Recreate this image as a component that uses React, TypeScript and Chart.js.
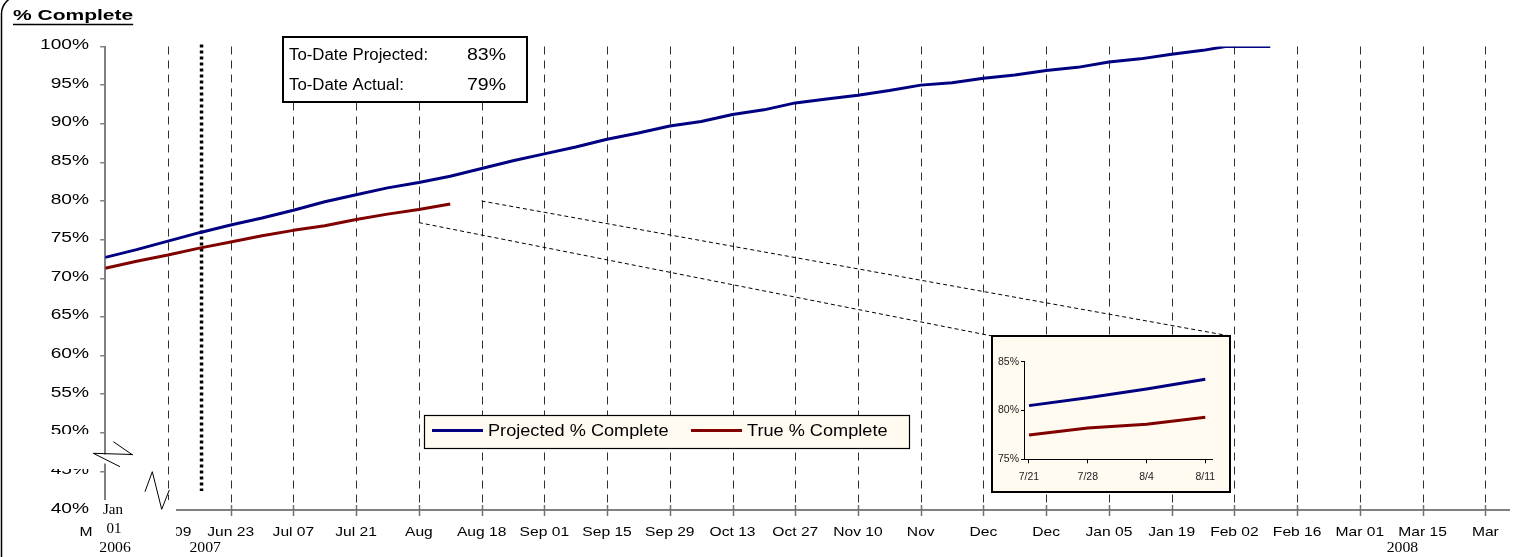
import React, { useEffect, useRef } from 'react';
import { Chart, registerables } from 'chart.js';

Chart.register(...registerables);

const W = 1513;
const H = 557;

// ---------- data (days counted from May 26, 2007) ----------
const projectedDays = [0, 7, 14, 21, 28, 35, 42, 49, 56, 63, 70, 77, 84, 91, 98, 105, 112, 119, 126, 133, 140, 147, 154, 161, 168, 175, 182, 189, 196, 203, 210, 217, 224, 231, 238, 245, 250, 260];
const projectedValues = [72.7, 73.7, 74.8, 75.9, 76.9, 77.8, 78.8, 79.9, 80.8, 81.7, 82.4, 83.2, 84.2, 85.2, 86.1, 87.0, 88.0, 88.8, 89.7, 90.3, 91.2, 91.8, 92.7, 93.2, 93.7, 94.3, 95.0, 95.3, 95.9, 96.3, 96.9, 97.3, 98.0, 98.4, 99.0, 99.5, 100, 100];

const actualDays = [0, 7, 14, 21, 28, 35, 42, 49, 56, 63, 70, 77];
const actualValues = [71.3, 72.2, 73.0, 73.9, 74.7, 75.5, 76.2, 76.8, 77.6, 78.3, 78.9, 79.6];

const xTickDays = [0, 14, 28, 42, 56, 70, 84, 98, 112, 126, 140, 154, 168, 182, 196, 210, 224, 238, 252, 266, 280, 294, 308];
const xTickLabels = ['May 26', 'Jun 09', 'Jun 23', 'Jul 07', 'Jul 21', 'Aug', 'Aug 18', 'Sep 01', 'Sep 15', 'Sep 29', 'Oct 13', 'Oct 27', 'Nov 10', 'Nov', 'Dec', 'Dec', 'Jan 05', 'Jan 19', 'Feb 02', 'Feb 16', 'Mar 01', 'Mar 15', 'Mar'];
const yTickValues = [40, 45, 50, 55, 60, 65, 70, 75, 80, 85, 90, 95, 100];

const yearLabelDays = [22.3, 289.5];
const yearLabels = ['2007', '2008'];
const brokenAxisLabels = ['Jan', '01', '2006'];

const statusDay = 21.5;
const toDateLabels = ['To-Date Projected:', 'To-Date Actual:'];
const toDateValues = [83, 79];

const seriesNames = ['Projected % Complete', 'True % Complete'];
const seriesColors = ['#000080', '#800000'];

const zoomFromDays = [70, 84];
const zoomFromValues = [77.2, 80.0];

const insetLabels = ['7/21', '7/28', '8/4', '8/11'];
const insetProjected = [80.5, 81.3, 82.2, 83.2];
const insetActual = [77.5, 78.2, 78.6, 79.3];
const insetYTicks = [75, 80, 85];

// ---------- helpers ----------
const SANS = '"Liberation Sans", Arial, sans-serif';
const SERIF = '"Liberation Serif", "Times New Roman", serif';
const INSET = { left: 991, top: 335, w: 240, h: 158 };
const CREAM = '#FFFBF0';

function stext(
  ctx: CanvasRenderingContext2D,
  text: string,
  x: number,
  y: number,
  font: string,
  sx: number,
  align: CanvasTextAlign,
  color = '#000'
): number {
  ctx.save();
  ctx.font = font;
  ctx.fillStyle = color;
  ctx.textBaseline = 'middle';
  ctx.textAlign = align;
  ctx.translate(x, y);
  ctx.scale(sx, 1);
  ctx.fillText(text, 0, 0);
  const w = ctx.measureText(text).width * sx;
  ctx.restore();
  return w;
}

function poly(ctx: CanvasRenderingContext2D, pts: number[][], color: string, width: number, dash: number[] = []) {
  ctx.save();
  ctx.strokeStyle = color;
  ctx.lineWidth = width;
  ctx.setLineDash(dash);
  ctx.beginPath();
  pts.forEach((p, i) => (i === 0 ? ctx.moveTo(p[0], p[1]) : ctx.lineTo(p[0], p[1])));
  ctx.stroke();
  ctx.restore();
}

const decorPlugin = {
  id: 'decor',
  beforeDatasetsDraw(chart: any) {
    const { ctx, chartArea: ca } = chart;
    const xs = chart.scales.x;
    const ys = chart.scales.y;
    // dashed vertical gridlines
    xTickDays.forEach((d) => {
      if (d <= 0) return;
      const px = Math.round(xs.getPixelForValue(d)) + 0.5;
      poly(ctx, [[px, ca.top], [px, ca.bottom - 4]], '#303030', 1, [8, 6]);
    });
    // status date (dotted)
    const sxp = xs.getPixelForValue(statusDay);
    poly(ctx, [[sxp, ca.top - 2], [sxp, 491]], '#000', 3.5, [3, 3]);
    // x axis line with cross ticks
    poly(ctx, [[175, ca.bottom], [ca.right, ca.bottom]], '#808080', 2);
    xTickDays.forEach((d) => {
      const px = Math.round(xs.getPixelForValue(d)) + 0.5;
      if (px < 176) return;
      poly(ctx, [[px, ca.bottom - 5], [px, ca.bottom + 6]], '#707070', 1.5);
    });
    // zoom connectors to the inset
    const ends = [
      [INSET.left + 1, INSET.top + 1],
      [INSET.left + INSET.w - 1, INSET.top + 1],
    ];
    zoomFromDays.forEach((d, i) => {
      poly(ctx, [[xs.getPixelForValue(d), ys.getPixelForValue(zoomFromValues[i])], ends[i]], '#000', 1, [4, 3]);
    });
  },
  afterDraw(chart: any) {
    const { ctx, chartArea: ca } = chart;
    const xs = chart.scales.x;
    const ys = chart.scales.y;

    // To-date box
    ctx.save();
    ctx.fillStyle = '#fff';
    ctx.fillRect(283, 37, 244, 65);
    ctx.strokeStyle = '#000';
    ctx.lineWidth = 2;
    ctx.strokeRect(283, 37, 244, 65);
    ctx.restore();
    toDateLabels.forEach((t, i) => {
      const yy = 56 + i * 29.5;
      stext(ctx, t, 289, yy, `16px ${SANS}`, 1.05, 'left');
      stext(ctx, `${toDateValues[i]}%`, 506, yy, `16px ${SANS}`, 1.22, 'right');
    });

    // legend
    ctx.save();
    ctx.fillStyle = CREAM;
    ctx.fillRect(424.5, 415.5, 485, 33);
    ctx.strokeStyle = '#000';
    ctx.lineWidth = 1.2;
    ctx.strokeRect(424.5, 415.5, 485, 33);
    ctx.restore();
    const legX = [432, 691];
    chart.data.datasets.forEach((ds: any, i: number) => {
      poly(ctx, [[legX[i], 430.5], [legX[i] + 51, 430.5]], ds.borderColor, 3);
      stext(ctx, ds.label, legX[i] + 56, 431, `16.5px ${SANS}`, 1.1, 'left');
    });

    // y tick labels
    yTickValues.forEach((v) => {
      stext(ctx, `${v}%`, 89, ys.getPixelForValue(v) - 1.5, `14.5px ${SANS}`, 1.32, 'right');
    });

    // x tick labels
    xTickDays.forEach((d, i) => {
      stext(ctx, xTickLabels[i], xs.getPixelForValue(d), 532, `13px ${SANS}`, 1.2, 'center');
    });

    // title
    const tw = stext(ctx, '% Complete', 13, 16.5, `bold 14px ${SANS}`, 1.5, 'left');
    poly(ctx, [[13, 24.5], [13 + tw, 24.5]], '#000', 1.5);

    // broken-axis masks
    ctx.save();
    ctx.fillStyle = '#fff';
    ctx.fillRect(92, ca.bottom - 10, 84, 60);
    ctx.fillRect(38, 434, 55, 35);
    ctx.fillRect(100, 454.5, 12, 9);
    ctx.restore();
    poly(ctx, [[113.3, 441.7], [132.7, 455]], '#000', 1);
    poly(ctx, [[93.3, 453.3], [132.7, 454.5]], '#000', 1);
    poly(ctx, [[93.3, 453.3], [120, 466.7]], '#000', 1);
    poly(ctx, [[145, 491.7], [152.3, 471.7], [161.7, 509.3], [169.3, 490]], '#000', 1);

    // serif axis labels of the original axis
    stext(ctx, brokenAxisLabels[0], 113, 510, `15px ${SERIF}`, 1, 'center');
    stext(ctx, brokenAxisLabels[1], 114, 529, `15px ${SERIF}`, 1, 'center');
    stext(ctx, brokenAxisLabels[2], 115, 548, `15px ${SERIF}`, 1.05, 'center');
    yearLabelDays.forEach((d, i) => {
      stext(ctx, yearLabels[i], xs.getPixelForValue(d), 548, `15px ${SERIF}`, 1.05, 'center');
    });

    // outer rounded frame
    ctx.save();
    ctx.strokeStyle = '#000';
    ctx.lineWidth = 1.5;
    ctx.beginPath();
    ctx.roundRect(1.5, -4, W + 30, H + 30, 18);
    ctx.stroke();
    ctx.restore();
  },
};

const insetPlugin = {
  id: 'insetFrame',
  beforeDraw(chart: any) {
    const { ctx, width, height } = chart;
    ctx.save();
    ctx.fillStyle = CREAM;
    ctx.fillRect(0, 0, width, height);
    ctx.restore();
  },
  afterDraw(chart: any) {
    const { ctx, width, height } = chart;
    ctx.save();
    ctx.strokeStyle = '#000';
    ctx.lineWidth = 2;
    ctx.strokeRect(1, 1, width - 2, height - 2);
    ctx.restore();
  },
};

export default function App() {
  const mainRef = useRef<HTMLCanvasElement>(null);
  const insetRef = useRef<HTMLCanvasElement>(null);

  useEffect(() => {
    if (!mainRef.current || !insetRef.current) return;

    const main = new Chart(mainRef.current, {
      type: 'line',
      data: {
        datasets: [
          {
            label: seriesNames[0],
            data: projectedDays.map((d, i) => ({ x: d, y: projectedValues[i] })),
            borderColor: seriesColors[0],
            borderWidth: 3,
            pointRadius: 0,
            tension: 0,
            fill: false,
            borderJoinStyle: 'round',
          },
          {
            label: seriesNames[1],
            data: actualDays.map((d, i) => ({ x: d, y: actualValues[i] })),
            borderColor: seriesColors[1],
            borderWidth: 3,
            pointRadius: 0,
            tension: 0,
            fill: false,
            borderJoinStyle: 'round',
          },
        ],
      },
      options: {
        responsive: false,
        maintainAspectRatio: false,
        animation: false,
        layout: { padding: { left: 0, top: 46.5, right: 3, bottom: 0 } },
        plugins: { legend: { display: false }, tooltip: { enabled: false }, title: { display: false } },
        scales: {
          x: {
            type: 'linear',
            min: 0,
            max: 313.5,
            afterBuildTicks: (s: any) => {
              s.ticks = xTickDays.map((v) => ({ value: v }));
            },
            ticks: { display: false },
            grid: { display: false },
            border: { display: false },
            afterFit: (s: any) => {
              s.height = 47;
            },
          },
          y: {
            type: 'linear',
            min: 40,
            max: 100,
            afterBuildTicks: (s: any) => {
              s.ticks = yTickValues.map((v) => ({ value: v }));
            },
            ticks: { display: false },
            grid: { drawOnChartArea: false, drawTicks: true, tickLength: 5, color: '#808080', lineWidth: 1.5 },
            border: { display: true, color: '#808080', width: 2 },
            afterFit: (s: any) => {
              s.width = 105.2;
            },
          },
        },
      } as any,
      plugins: [decorPlugin],
    });

    const inset = new Chart(insetRef.current, {
      type: 'line',
      data: {
        datasets: [
          {
            label: seriesNames[0],
            data: insetProjected.map((v, i) => ({ x: i, y: v })),
            borderColor: seriesColors[0],
            borderWidth: 3,
            pointRadius: 0,
            tension: 0,
          },
          {
            label: seriesNames[1],
            data: insetActual.map((v, i) => ({ x: i, y: v })),
            borderColor: seriesColors[1],
            borderWidth: 3,
            pointRadius: 0,
            tension: 0,
          },
        ],
      },
      options: {
        responsive: false,
        maintainAspectRatio: false,
        animation: false,
        layout: { padding: { left: 0, top: 26.7, right: 19, bottom: 0 } },
        plugins: { legend: { display: false }, tooltip: { enabled: false } },
        scales: {
          x: {
            type: 'linear',
            min: -0.085,
            max: 3.114,
            afterBuildTicks: (s: any) => {
              s.ticks = insetLabels.map((_, i) => ({ value: i }));
            },
            ticks: {
              callback: (v: any) => insetLabels[Math.round(Number(v))] ?? '',
              font: { size: 10.5, family: SANS },
              color: '#222',
              padding: 8,
              maxRotation: 0,
              autoSkip: false,
            },
            grid: { drawOnChartArea: false, drawTicks: true, tickLength: 4, color: '#000', lineWidth: 1 },
            border: { display: true, color: '#000', width: 1 },
            afterFit: (s: any) => {
              s.height = 33.7;
            },
          },
          y: {
            type: 'linear',
            min: 75,
            max: 85,
            afterBuildTicks: (s: any) => {
              s.ticks = insetYTicks.map((v) => ({ value: v }));
            },
            ticks: {
              callback: (v: any) => `${v}%`,
              font: { size: 10.5, family: SANS },
              color: '#222',
              padding: 2,
            },
            grid: { drawOnChartArea: false, drawTicks: true, tickLength: 3, color: '#000', lineWidth: 1 },
            border: { display: true, color: '#000', width: 1 },
            afterFit: (s: any) => {
              s.width = 33;
            },
          },
        },
      } as any,
      plugins: [insetPlugin],
    });

    return () => {
      main.destroy();
      inset.destroy();
    };
  }, []);

  return (
    <div style={{ position: 'fixed', left: 0, top: 0, width: W, height: H, background: '#fff', overflow: 'hidden' }}>
      <canvas ref={mainRef} width={W} height={H} style={{ position: 'absolute', left: 0, top: 0, width: W, height: H }} />
      <canvas
        ref={insetRef}
        width={INSET.w}
        height={INSET.h}
        style={{ position: 'absolute', left: INSET.left, top: INSET.top, width: INSET.w, height: INSET.h }}
      />
    </div>
  );
}
